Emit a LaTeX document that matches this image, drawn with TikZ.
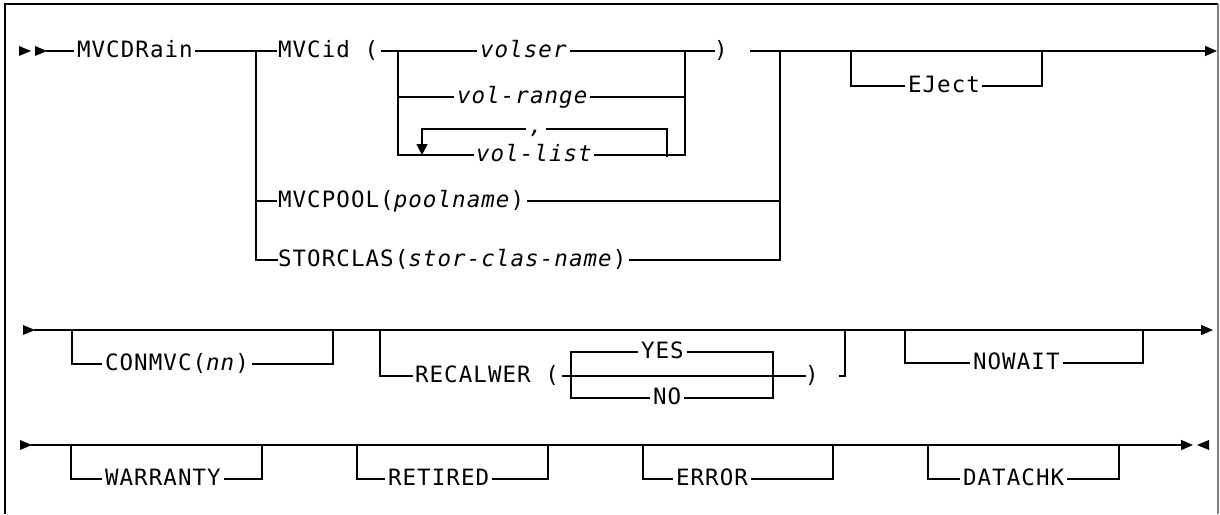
\documentclass[tikz,border=0pt]{standalone}
\usepackage{fontspec}
\newfontfamily\sdmono{DejaVu Sans Mono}[LetterSpace=4.7]
\usetikzlibrary{calc,arrows.meta}
\begin{document}
\begin{tikzpicture}[x=1pt,y=-1pt,
  ln/.style={draw=black,line width=1.6pt},
  kw/.style={anchor=base west,inner sep=0pt,outer sep=0pt,font=\sdmono\fontsize{22.5}{27}\selectfont},
  kwi/.style={kw,font=\sdmono\itshape\fontsize{22.5}{27}\selectfont},
  tip/.style={-{Triangle[length=12pt,width=10pt]}}]
\useasboundingbox (0,0) rectangle (1220,514);
% frame
\draw[line width=1.6pt] (5,514) -- (5,4) -- (1218,4);
\draw[gray,line width=1.2pt] (1218,4) -- (1218,514);

% ---------------- row 1 ----------------
\fill (19,46) -- (31,51) -- (19,56) -- cycle;
\fill (35,46) -- (47,51) -- (35,56) -- cycle;
\coordinate (r1start) at (46,51);
\node[kw] (mvcdrain) at (77,57) {MVCDRain};
\coordinate (jA) at (256,51);
\coordinate (jApool) at (256,201);
\coordinate (jAb) at (256,260);
\node[kw] (mvcid) at (278,57) {MVCid (};
\coordinate (jB) at (398,51);
\coordinate (jBr) at (398,97);
\coordinate (jBb) at (398,155);
\node[kwi] (volser) at (480,57) {volser};
\node[kwi] (volrange) at (457,103) {vol-range};
\node[kwi] (vollist) at (476,161) {vol-list};
\coordinate (jC) at (685,51);
\coordinate (jCr) at (685,97);
\coordinate (jCb) at (685,155);
\node[kw] (rpar1) at (714,57) {)};
\coordinate (r1cont) at (750,51);
\coordinate (jD) at (780,51);
\coordinate (jDpool) at (780,201);
\coordinate (jDb) at (780,260);
\node[kw] (mvcpool) at (278,207) {MVCPOOL(\textit{poolname})};
\node[kw] (storclas) at (278,266) {STORCLAS(\textit{stor-clas-name})};
\coordinate (ejL) at (851,51);
\coordinate (ejR) at (1042,51);
\node[kw] (eject) at (908,92) {EJect};
\coordinate (r1end) at (1217,51);
% repeat loop
\coordinate (lpL) at (422,129);
\coordinate (lpLb) at (422,155);
\coordinate (lpR) at (667,129);
\coordinate (lpRb) at (667,157);
\node[kwi] (comma) at (529,133) {,};

\draw[ln] (r1start) -- ($(mvcdrain.base west)+(-3,-6)$);
\draw[ln] ($(mvcdrain.base east)+(2,-6)$) -- (jA) -- ($(mvcid.base west)+(-1,-6)$);
\draw[ln] ($(mvcid.base east)+(3,-6)$) -- (jB) -- ($(volser.base west)+(-3,-6)$);
\draw[ln] ($(volser.base east)+(3,-6)$) -- (jC) -- ($(rpar1.base west)+(1,-6)$);
\draw[ln,tip] (r1cont) -- (r1end);
\draw[ln] (jA) -- (jAb) -- ($(storclas.base west)+(0,-6)$);
\draw[ln] (jApool) -- ($(mvcpool.base west)+(-1,-6)$);
\draw[ln] ($(mvcpool.base east)+(3,-6)$) -- (jDpool);
\draw[ln] ($(storclas.base east)+(3,-6)$) -- (jDb) -- (jD);
\draw[ln] (jB) -- (jBb) -- ($(vollist.base west)+(-2,-6)$);
\draw[ln] (jBr) -- ($(volrange.base west)+(-3,-6)$);
\draw[ln] ($(volrange.base east)+(3,-6)$) -- (jCr);
\draw[ln] ($(vollist.base east)+(2,-6)$) -- (jCb) -- (jC);
\draw[ln] (lpRb) -- (lpR) -- ($(comma.base east |- lpR)+(3,0)$);
\draw[ln,-{Triangle[length=11pt,width=11pt]}] ($(comma.base west |- lpL)+(-3,0)$) -- (lpL) -- (lpLb);
\draw[ln] (ejL) |- ($(eject.base west)+(-3,-6)$);
\draw[ln] ($(eject.base east)+(2,-6)$) -| (ejR);

% ---------------- row 2 ----------------
\fill (23,325) -- (35,330) -- (23,335) -- cycle;
\coordinate (r2start) at (34,330);
\coordinate (r2end) at (1213,330);
\draw[ln,tip] (r2start) -- (r2end);
\node[kw] (conmvc) at (105,370) {CONMVC(\textit{nn})};
\coordinate (cnL) at (72,330);
\coordinate (cnR) at (333,330);
\draw[ln] (cnL) |- ($(conmvc.base west)+(-3,-6)$);
\draw[ln] ($(conmvc.base east)+(3,-6)$) -| (cnR);
\node[kw] (recal) at (415,382) {RECALWER (};
\coordinate (rcL) at (380,330);
\draw[ln] (rcL) |- ($(recal.base west)+(-2,-6)$);
\node[kw] (rpar2) at (805,382) {)};
\draw[ln] ($(recal.base east)+(3,-6)$) -- ($(rpar2.base west)+(1,-6)$);
\node[kw] (yes) at (641,358) {YES};
\node[kw] (no) at (653,404) {NO};
\coordinate (bxL) at (571,398);
\coordinate (bxR) at (773,398);
\draw[ln] ($(yes.base west)+(-3,-6)$) -| (bxL) -- ($(no.base west)+(-3,-6)$);
\draw[ln] ($(yes.base east)+(3,-6)$) -| (bxR) -- ($(no.base east)+(3,-6)$);
\coordinate (brk) at (845,330);
\coordinate (brkt) at (839,376);
\draw[ln] (brkt) -| (brk);
\node[kw] (nowait) at (973,369) {NOWAIT};
\coordinate (nwL) at (905,330);
\coordinate (nwR) at (1143,330);
\draw[ln] (nwL) |- ($(nowait.base west)+(-3,-6)$);
\draw[ln] ($(nowait.base east)+(3,-6)$) -| (nwR);

% ---------------- row 3 ----------------
\fill (20,440) -- (32,445) -- (20,450) -- cycle;
\coordinate (r3start) at (31,445);
\coordinate (r3end) at (1193,445);
\draw[ln,tip] (r3start) -- (r3end);
\fill (1209,440) -- (1197,445) -- (1209,450) -- cycle;
\node[kw] (warranty) at (105,485) {WARRANTY};
\coordinate (waL) at (71,445);
\coordinate (waR) at (262,445);
\draw[ln] (waL) |- ($(warranty.base west)+(-3,-6)$);
\draw[ln] ($(warranty.base east)+(3,-6)$) -| (waR);
\node[kw] (retired) at (388,485) {RETIRED};
\coordinate (reL) at (357,445);
\coordinate (reR) at (548,445);
\draw[ln] (reL) |- ($(retired.base west)+(-3,-6)$);
\draw[ln] ($(retired.base east)+(3,-6)$) -| (reR);
\node[kw] (error) at (676,485) {ERROR};
\coordinate (erL) at (643,445);
\coordinate (erR) at (833,445);
\draw[ln] (erL) |- ($(error.base west)+(-3,-6)$);
\draw[ln] ($(error.base east)+(3,-6)$) -| (erR);
\node[kw] (datachk) at (963,485) {DATACHK};
\coordinate (dcL) at (928,445);
\coordinate (dcR) at (1119,445);
\draw[ln] (dcL) |- ($(datachk.base west)+(-3,-6)$);
\draw[ln] ($(datachk.base east)+(3,-6)$) -| (dcR);
\end{tikzpicture}
\end{document}
